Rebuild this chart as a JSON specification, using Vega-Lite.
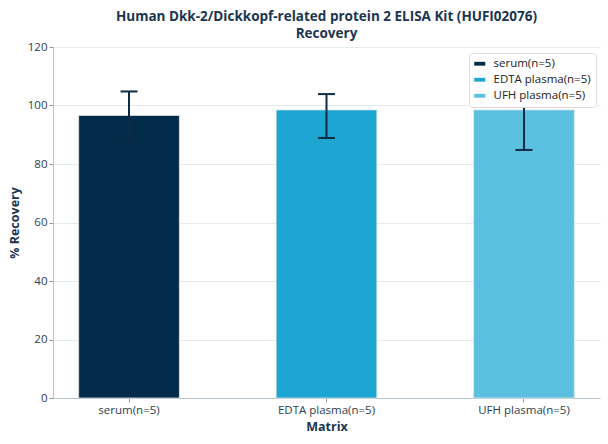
{
  "$schema": "https://vega.github.io/schema/vega-lite/v6.json",
  "width": 547,
  "height": 351,
  "autosize": {"type": "none"},
  "padding": {"left": 53, "top": 47, "right": 8, "bottom": 46},
  "background": "white",
  "title": {
    "text": ["Human Dkk-2/Dickkopf-related protein 2 ELISA Kit (HUFI02076)", "Recovery"],
    "font": "Open Sans",
    "fontSize": 13.5,
    "fontWeight": "bold",
    "color": "#1b3550",
    "lineHeight": 17,
    "anchor": "middle",
    "offset": 1
  },
  "data": {
    "values": [
      {"Matrix": "serum(n=5)", "Recovery": 96.6, "Lower": 88.5, "Upper": 104.8},
      {"Matrix": "EDTA plasma(n=5)", "Recovery": 98.5, "Lower": 88.9, "Upper": 103.9},
      {"Matrix": "UFH plasma(n=5)", "Recovery": 98.5, "Lower": 84.8, "Upper": 112.2}
    ]
  },
  "encoding": {
    "x": {
      "field": "Matrix",
      "type": "nominal",
      "sort": null,
      "title": "Matrix",
      "scale": {"paddingInner": 0.49, "paddingOuter": 0.13},
      "axis": {"labelAngle": 0, "tickSize": 4, "labelPadding": 2, "labelFontSize": 11.5}
    }
  },
  "layer": [
    {
      "mark": {"type": "rule", "strokeDash": [4, 3], "color": "#86c5d8", "strokeWidth": 1},
      "encoding": {"y": {"datum": 100, "type": "quantitative"}}
    },
    {
      "mark": {"type": "bar", "stroke": "#dfe6ea", "strokeWidth": 0.8},
      "encoding": {
        "y": {
          "field": "Recovery",
          "type": "quantitative",
          "title": "% Recovery",
          "scale": {"domain": [0, 120]},
          "axis": {"values": [0, 20, 40, 60, 80, 100, 120], "tickSize": 4, "titlePadding": 6, "labelFontSize": 11.5}
        },
        "color": {
          "field": "Matrix",
          "type": "nominal",
          "sort": null,
          "title": null,
          "scale": {
            "domain": ["serum(n=5)", "EDTA plasma(n=5)", "UFH plasma(n=5)"],
            "range": ["#032b4a", "#1ea6d3", "#5bbfe0"]
          },
          "legend": {
            "orient": "none",
            "legendX": 416,
            "legendY": 6,
            "fillColor": "white",
            "strokeColor": "#dcdcdc",
            "cornerRadius": 3,
            "padding": 5,
            "rowPadding": 3,
            "symbolType": "M-1,-0.35H1V0.35H-1Z",
            "symbolSize": 121,
            "symbolStrokeWidth": 0,
            "symbolOpacity": 1,
            "labelFontSize": 11.5,
            "labelOffset": 8
          }
        }
      }
    },
    {
      "mark": {"type": "rule", "color": "#0d2b45", "strokeWidth": 2},
      "encoding": {
        "y": {"field": "Lower", "type": "quantitative"},
        "y2": {"field": "Upper"}
      }
    },
    {
      "mark": {"type": "tick", "orient": "horizontal", "color": "#0d2b45", "thickness": 2, "size": 17, "opacity": 1},
      "encoding": {"y": {"field": "Upper", "type": "quantitative"}}
    },
    {
      "mark": {"type": "tick", "orient": "horizontal", "color": "#0d2b45", "thickness": 2, "size": 17, "opacity": 1},
      "encoding": {"y": {"field": "Lower", "type": "quantitative"}}
    }
  ],
  "config": {
    "font": "Open Sans",
    "view": {"stroke": null},
    "axis": {
      "labelFont": "Open Sans",
      "labelColor": "#2c3e50",
      "titleFont": "Open Sans",
      "titleFontSize": 12.5,
      "titleFontWeight": "bold",
      "titleColor": "#1b3550",
      "domainColor": "#b8c4cc",
      "tickColor": "#8a98a4",
      "gridColor": "#e6eaed",
      "grid": false
    },
    "axisY": {"grid": true, "gridWidth": 1},
    "axisX": {"titlePadding": 5},
    "legend": {"labelFont": "Open Sans", "labelColor": "#222"}
  }
}
